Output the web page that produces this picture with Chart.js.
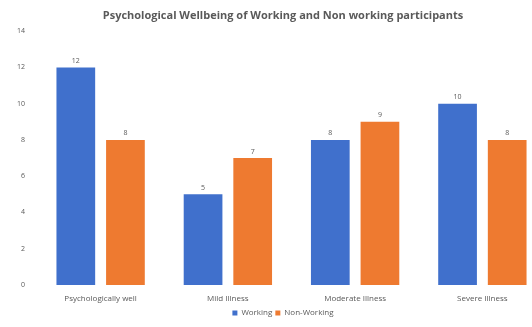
<!DOCTYPE html>
<html><head><meta charset="utf-8">
<script src="https://cdn.jsdelivr.net/npm/chart.js@4.4.0/dist/chart.umd.min.js"></script>
<style>html,body{margin:0;padding:0;overflow:hidden;background:#fff;width:532px;height:327px}#wrap{width:566px;height:327px;position:relative}</style>
</head><body><div id="wrap"><canvas id="c" width="566" height="327"></canvas></div>
<script>
const categories = ["Psychologically well", "Mild Illness", "Moderate Illness", "Severe Illness"];
const working = [12, 5, 8, 10];
const nonWorking = [8, 7, 9, 8];
const yTicks = [0, 2, 4, 6, 8, 10, 12, 14];

const valueLabels = {
  id: 'valueLabels',
  afterDatasetsDraw(chart) {
    const ctx = chart.ctx;
    ctx.save();
    ctx.font = '7px "Open Sans", sans-serif';
    ctx.fillStyle = '#595959';
    ctx.textAlign = 'center';
    ctx.textBaseline = 'bottom';
    chart.data.datasets.forEach((ds, i) => {
      chart.getDatasetMeta(i).data.forEach((el, j) => {
        ctx.fillText(String(ds.data[j]), el.x, el.y - 3);
      });
    });
    ctx.restore();
  }
};

new Chart(document.getElementById('c'), {
  type: 'bar',
  data: {
    labels: categories,
    datasets: [
      { label: 'Working', data: working, backgroundColor: '#4070CC', borderWidth: 0 },
      { label: 'Non-Working', data: nonWorking, backgroundColor: '#EE7A30', borderWidth: 0 }
    ]
  },
  options: {
    responsive: false,
    animation: false,
    devicePixelRatio: 1,
    layout: { padding: { left: 0, right: 0, top: 0, bottom: 0 } },
    datasets: { bar: { categoryPercentage: 0.78, barPercentage: 0.78 } },
    scales: {
      x: {
        grid: { display: false, drawTicks: false },
        border: { display: false },
        ticks: { color: '#595959', font: { size: 8, family: '"Open Sans", sans-serif' }, padding: 9, maxRotation: 0 },
        afterFit(s) { s.height = 21; }
      },
      y: {
        min: 0, max: 14,
        afterBuildTicks(s) { s.ticks = yTicks.map(v => ({ value: v })); },
        grid: { display: false, drawTicks: false },
        border: { display: false },
        ticks: { color: '#595959', font: { size: 7, family: '"Open Sans", sans-serif' }, padding: 12 },
        afterFit(s) { s.width = 37; }
      },
      spacer: {
        type: 'linear', position: 'right', display: true,
        grid: { display: false, drawTicks: false },
        border: { display: false },
        ticks: { display: false },
        afterFit(s) { s.width = 20; }
      }
    },
    plugins: {
      title: {
        display: true,
        text: 'Psychological Wellbeing of Working and Non working participants',
        color: '#595959',
        font: { size: 11, weight: 'bold', family: '"Open Sans", sans-serif' },
        padding: { top: 9, bottom: 9 }
      },
      legend: {
        position: 'bottom',
        labels: { color: '#595959', boxWidth: 5, boxHeight: 5, font: { size: 8, family: '"Open Sans", sans-serif' }, padding: 3 }
      },
      tooltip: { enabled: false }
    }
  },
  plugins: [valueLabels]
});
</script></body></html>
